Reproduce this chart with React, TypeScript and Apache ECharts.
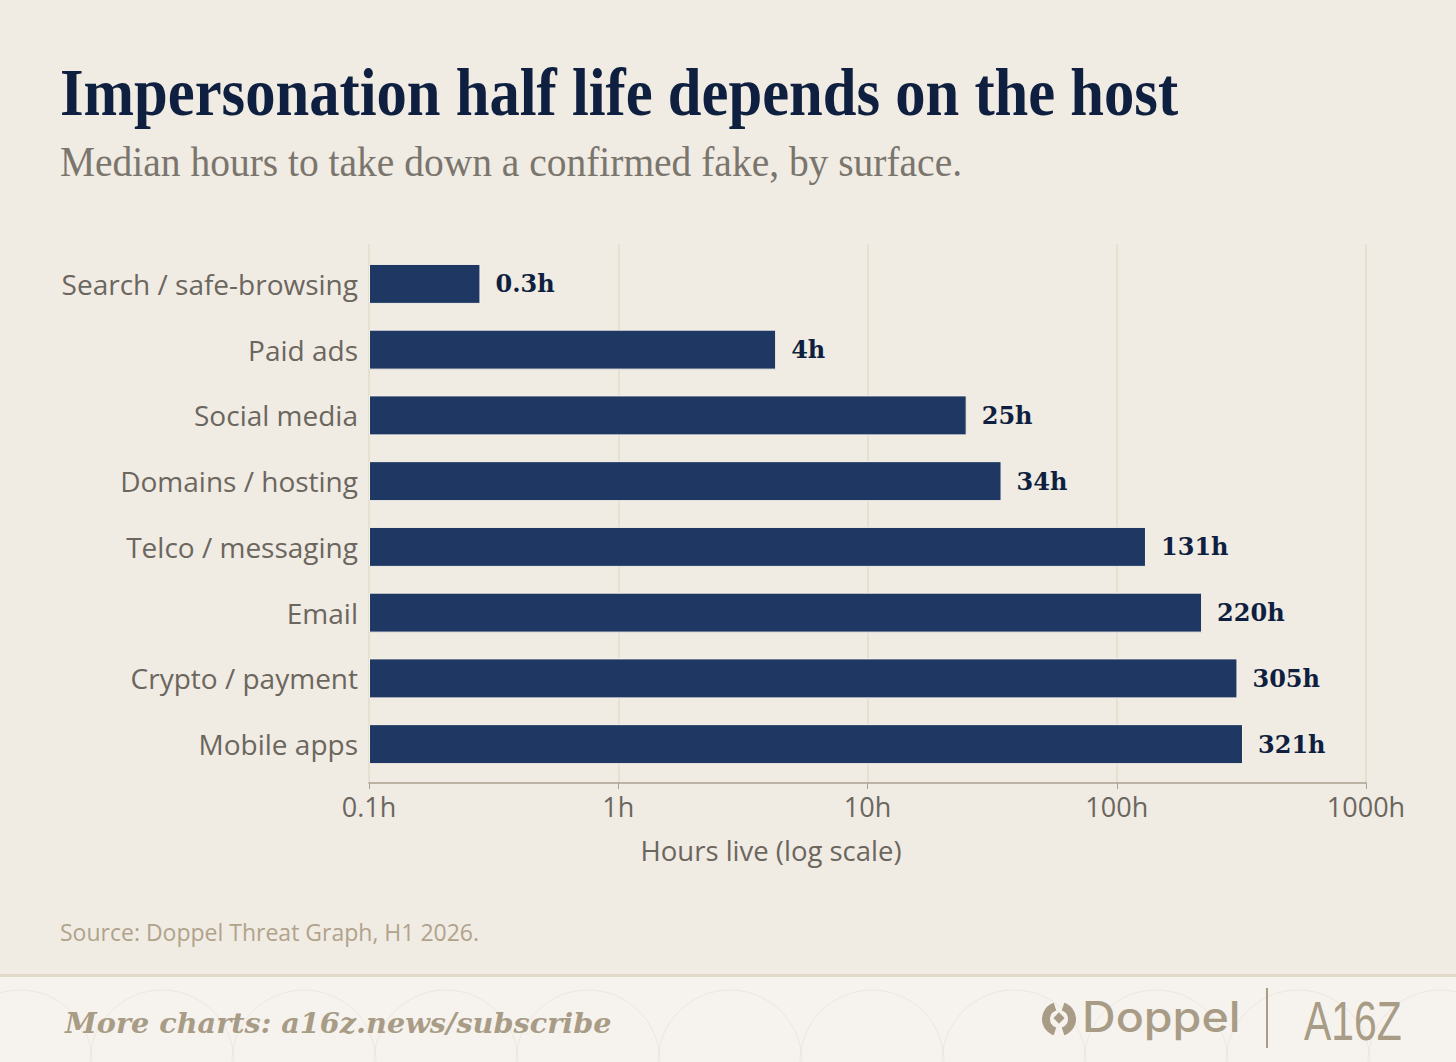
import React, { useEffect, useRef } from "react";
import * as echarts from "echarts";

const categories = [
  "Search / safe-browsing",
  "Paid ads",
  "Social media",
  "Domains / hosting",
  "Telco / messaging",
  "Email",
  "Crypto / payment",
  "Mobile apps",
];
const hours = [0.28, 4.3, 25, 34.5, 131, 220, 305, 321];
const valueLabels = ["0.3h", "4h", "25h", "34h", "131h", "220h", "305h", "321h"];
const tickLabels = ["0.1h", "1h", "10h", "100h", "1000h"];

const TITLE = "Impersonation half life depends on the host";
const SUBTITLE = "Median hours to take down a confirmed fake, by surface.";
const AXIS_NAME = "Hours live (log scale)";
const SOURCE = "Source: Doppel Threat Graph, H1 2026.";
const FOOTER = "More charts: a16z.news/subscribe";

const BG = "#f0ebe3";
const NAVY = "#0f1f3f";
const BAR = "#1e3863";
const GRAY = "#6b665e";
const TAN = "#a99c86";
const SANS = "'Open Sans', Lato, sans-serif";
const SERIF = "'Liberation Serif', 'DejaVu Serif', serif";

export default function App() {
  const ref = useRef<HTMLDivElement>(null);

  useEffect(() => {
    document.body.style.margin = "0";
    const chart = echarts.init(ref.current!, undefined, { renderer: "svg" });

    const arcs: any[] = [];
    for (let i = -1; i < 12; i++) {
      arcs.push({
        type: "arc",
        silent: true,
        shape: { cx: i * 142 + 20, cy: 1062, r: 72, startAngle: Math.PI, endAngle: Math.PI * 2 },
        style: { stroke: "#ece7de", lineWidth: 1, fill: null },
      });
    }

    chart.setOption({
      animation: false,
      backgroundColor: BG,
      grid: [
        { left: 369, right: 90, top: 251, height: 526, containLabel: false },
        { left: 369, right: 90, top: 244, height: 539, containLabel: false },
      ],
      xAxis: [
        {
          gridIndex: 0,
          type: "log",
          logBase: 10,
          min: 0.1,
          max: 1000,
          startValue: 0.1,
          axisLine: { show: false },
          axisTick: { show: false },
          axisLabel: { show: false },
          splitLine: { show: false },
        },
        {
          gridIndex: 1,
          type: "log",
          logBase: 10,
          min: 0.1,
          max: 1000,
          axisLine: { show: true, lineStyle: { color: "#aaa190", width: 1.5 } },
          axisTick: { show: true, length: 6, lineStyle: { color: "#aaa190" } },
          splitLine: { show: true, lineStyle: { color: "#e3dccb", width: 1.5 } },
          axisLabel: {
            margin: 10,
            color: GRAY,
            fontFamily: SANS,
            fontSize: 27,
            formatter: (_v: number, idx: number) => tickLabels[idx] ?? "",
          },
        },
      ],
      yAxis: [
        {
          gridIndex: 0,
          type: "category",
          inverse: true,
          data: categories,
          axisLine: { show: false },
          axisTick: { show: false },
          axisLabel: {
            margin: 11,
            color: GRAY,
            fontFamily: SANS,
            fontSize: 28,
          },
        },
        { gridIndex: 1, type: "value", show: false },
      ],
      series: [
        {
          type: "bar",
          xAxisIndex: 0,
          yAxisIndex: 0,
          data: hours,
          barWidth: 40,
          itemStyle: { color: BAR, borderColor: "#f6f2ea", borderWidth: 1 },
          label: {
            show: true,
            position: "right",
            distance: 15,
            color: NAVY,
            fontFamily: "'DejaVu Serif', serif",
            fontWeight: "bold",
            fontSize: 24,
            formatter: (p: any) => valueLabels[p.dataIndex],
          },
        },
      ],
      graphic: [
        {
          type: "text",
          x: 60,
          y: 92,
          scaleX: 0.905,
          style: { text: TITLE, font: `bold 67px ${SERIF}`, fill: NAVY, textVerticalAlign: "middle" },
        },
        {
          type: "text",
          x: 60,
          y: 162,
          scaleX: 0.94,
          style: { text: SUBTITLE, font: `42px ${SERIF}`, fill: "#7a756d", textVerticalAlign: "middle" },
        },
        {
          type: "text",
          x: 771,
          y: 850,
          style: { text: AXIS_NAME, font: `27.5px ${SANS}`, fill: GRAY, textAlign: "center", textVerticalAlign: "middle" },
        },
        {
          type: "text",
          x: 60,
          y: 932,
          style: { text: SOURCE, font: `23px ${SANS}`, fill: "#b0a38c", textVerticalAlign: "middle" },
        },
        {
          type: "rect",
          shape: { x: 0, y: 975, width: 1456, height: 87 },
          style: { fill: "#f6f3ee" },
        },
        ...arcs,
        {
          type: "rect",
          shape: { x: 0, y: 974, width: 1456, height: 3 },
          style: { fill: "#e2dac9" },
        },
        {
          type: "text",
          x: 65,
          y: 1023,
          style: { text: FOOTER, font: `italic bold 28.7px 'DejaVu Serif', serif`, fill: TAN, textVerticalAlign: "middle" },
        },
        {
          type: "arc",
          shape: { cx: 1059, cy: 1019, r: 13, startAngle: Math.PI * 0.6, endAngle: Math.PI * 1.4 },
          style: { stroke: TAN, lineWidth: 8, fill: null },
        },
        {
          type: "arc",
          shape: { cx: 1059, cy: 1019, r: 13, startAngle: -Math.PI * 0.4, endAngle: Math.PI * 0.4 },
          style: { stroke: TAN, lineWidth: 8, fill: null },
        },
        {
          type: "rect",
          x: 1059,
          y: 1018,
          rotation: Math.PI / 4,
          shape: { x: -4, y: -4, width: 8, height: 8 },
          style: { fill: TAN },
        },
        {
          type: "text",
          x: 1082,
          y: 1017,
          scaleX: 1.11,
          style: { text: "Doppel", font: `500 42px Inter, ${SANS}`, fill: TAN, textVerticalAlign: "middle" },
        },
        {
          type: "line",
          shape: { x1: 1267, y1: 988, x2: 1267, y2: 1048 },
          style: { stroke: TAN, lineWidth: 2 },
        },
        {
          type: "text",
          x: 1304,
          y: 1021,
          scaleX: 0.73,
          style: { text: "A16Z", font: `56px 'Liberation Sans', sans-serif`, fill: TAN, textVerticalAlign: "middle" },
        },
      ],
    });
    return () => chart.dispose();
  }, []);

  return <div ref={ref} style={{ width: 1456, height: 1062 }} />;
}
